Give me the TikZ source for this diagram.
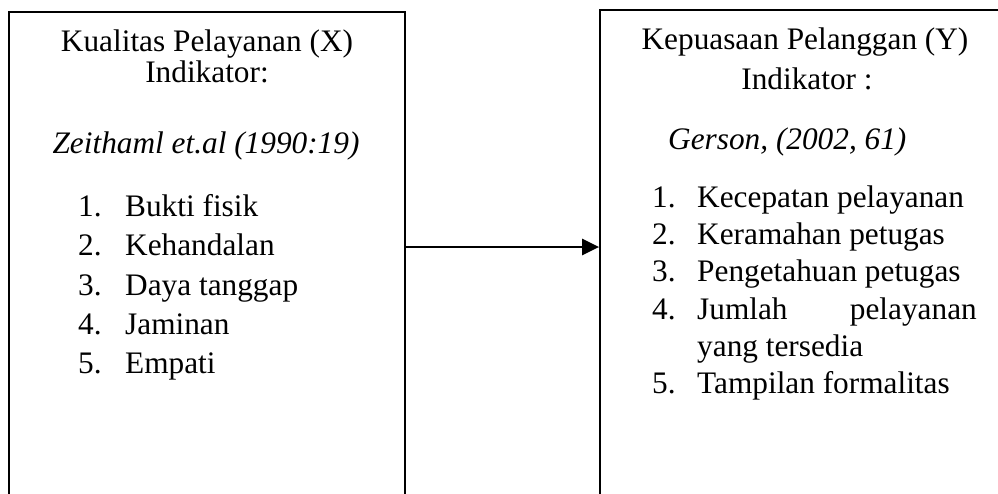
\documentclass[tikz,border=0pt]{standalone}
\usepackage{fontspec}
\setmainfont{Liberation Serif}
\usetikzlibrary{arrows.meta}
\tikzset{
  framebox/.style={draw, line width=1.8pt, inner sep=0pt},
  txt/.style={inner sep=0pt, font=\fontsize{31.3}{37}\selectfont},
  conn/.style={line width=2.4pt, -{Triangle[length=17pt,width=16pt]}}
}
\begin{document}
\begin{tikzpicture}[x=1pt,y=-1pt]
\useasboundingbox (0,0) rectangle (998,493);
\clip (0,0) rectangle (998,493);
% boxes (open at the bottom / right as in the reference)
\node[framebox, minimum width=396pt, minimum height=600pt] (leftbox) at (207,312) {};
\node[framebox, minimum width=420pt, minimum height=600pt] (rightbox) at (810,310) {};
% left texts
\node[txt, anchor=base] (lt1) at (207,51) {Kualitas Pelayanan (X)};
\node[txt, anchor=base] (lt2) at (207,82) {Indikator:};
\node[txt, anchor=base] (lt3) at (206,153) {\itshape Zeithaml et.al (1990:19)};
\node[txt, anchor=base west] (ln1) at (78,216) {1.};
\node[txt, anchor=base west] (li1) at (125,216) {Bukti fisik};
\node[txt, anchor=base west] (ln2) at (78,255) {2.};
\node[txt, anchor=base west] (li2) at (125,255) {Kehandalan};
\node[txt, anchor=base west] (ln3) at (78,295) {3.};
\node[txt, anchor=base west] (li3) at (125,295) {Daya tanggap};
\node[txt, anchor=base west] (ln4) at (78,334) {4.};
\node[txt, anchor=base west] (li4) at (125,334) {Jaminan};
\node[txt, anchor=base west] (ln5) at (78,373) {5.};
\node[txt, anchor=base west] (li5) at (125,373) {Empati};
% right texts
\node[txt, anchor=base] (rt1) at (805,49) {Kepuasaan Pelanggan (Y)};
\node[txt, anchor=base] (rt2) at (807,89) {Indikator :};
\node[txt, anchor=base west] (rt3) at (668,149) {\itshape Gerson, (2002, 61)};
\node[txt, anchor=base west] (rn1) at (652,207) {1.};
\node[txt, anchor=base west] (ri1) at (697,207) {Kecepatan pelayanan};
\node[txt, anchor=base west] (rn2) at (652,244) {2.};
\node[txt, anchor=base west] (ri2) at (697,244) {Keramahan petugas};
\node[txt, anchor=base west] (rn3) at (652,281) {3.};
\node[txt, anchor=base west] (ri3) at (697,281) {Pengetahuan petugas};
\node[txt, anchor=base west] (rn4) at (652,319) {4.};
\node[txt, anchor=base west] (ri4a) at (697,319) {Jumlah};
\node[txt, anchor=base east] (ri4b) at (977,319) {pelayanan};
\node[txt, anchor=base west] (ri4c) at (697,356) {yang tersedia};
\node[txt, anchor=base west] (rn5) at (652,393) {5.};
\node[txt, anchor=base west] (ri5) at (697,393) {Tampilan formalitas};
% connector
\coordinate (arrowy) at (0,247);
\draw[conn] (leftbox.east |- arrowy) -- (rightbox.west |- arrowy);
\end{tikzpicture}
\end{document}
